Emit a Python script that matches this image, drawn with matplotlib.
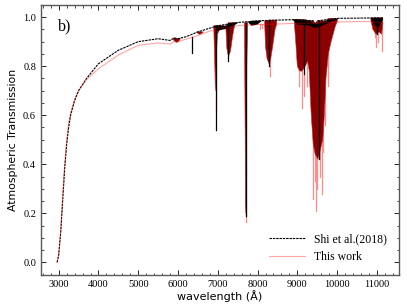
import matplotlib
matplotlib.use("Agg")
import matplotlib.pyplot as plt
from matplotlib.ticker import MultipleLocator

# continuum of the two transmission curves
shi_wl = [2960, 3000, 3050, 3100, 3150, 3200, 3250, 3300, 3400, 3500, 3700, 4000, 4500,
          5000, 5500, 5800, 5900, 6000, 6200, 6500, 7000, 7500, 8000, 8500, 9000, 9400,
          9450, 9500, 10000, 10500, 11150]
shi_T = [0.0, 0.03, 0.12, 0.25, 0.38, 0.48, 0.55, 0.60, 0.66, 0.70, 0.75, 0.81, 0.865,
         0.90, 0.912, 0.905, 0.915, 0.912, 0.92, 0.94, 0.965, 0.978, 0.985, 0.988, 0.99, 0.985,
         0.97, 0.985, 0.995, 0.996, 0.997]

new_wl = [2960, 3000, 3050, 3100, 3150, 3200, 3250, 3300, 3400, 3500, 3700, 4000, 4500,
          5000, 5500, 5800, 5900, 6000, 6200, 6500, 7000, 7500, 8000, 8500, 9000, 9500,
          10000, 10500, 10800, 11150]
new_T = [0.0, 0.03, 0.13, 0.27, 0.40, 0.50, 0.57, 0.61, 0.665, 0.70, 0.745, 0.79, 0.845,
         0.885, 0.895, 0.89, 0.90, 0.90, 0.91, 0.925, 0.955, 0.965, 0.97, 0.972, 0.975, 0.976,
         0.98, 0.982, 0.982, 0.975]

# dense absorption bands (outline of the dark region)
bands = [
    ([5880, 5930, 5970, 6020, 6060], [0.908, 0.90, 0.897, 0.902, 0.912]),
    ([6480, 6530, 6580, 6640], [0.937, 0.93, 0.932, 0.94]),
    ([6900, 6925, 6940, 6960, 6990, 7050, 7150], [0.955, 0.80, 0.70, 0.82, 0.93, 0.95, 0.96]),
    ([7200, 7230, 7270, 7320, 7370, 7420], [0.962, 0.87, 0.84, 0.86, 0.92, 0.965]),
    ([7670, 7688, 7700, 7715, 7730, 7750], [0.97, 0.55, 0.20, 0.28, 0.80, 0.975]),
    ([8180, 8200, 8240, 8290, 8330, 8380, 8440, 8480], [0.97, 0.88, 0.83, 0.81, 0.83, 0.88, 0.95, 0.97]),
    ([8920, 8960, 9000, 9060, 9120, 9200, 9260, 9300, 9350, 9400, 9450, 9520, 9580, 9640,
      9680, 9720, 9780, 9850, 9950, 10010],
     [0.985, 0.90, 0.80, 0.78, 0.78, 0.80, 0.82, 0.78, 0.60, 0.48, 0.44, 0.42, 0.46, 0.50,
      0.60, 0.75, 0.85, 0.90, 0.96, 0.985]),
    ([10850, 10900, 10980, 11050, 11120, 11150], [0.985, 0.95, 0.93, 0.94, 0.93, 0.98]),
]

# black "hatch" of the Shi et al. curve just below its continuum
shi_bands = [
    ([6900, 7000, 7200, 7400, 7500], [0.962, 0.945, 0.952, 0.964, 0.976]),
    ([7750, 7850, 8000, 8100], [0.98, 0.965, 0.97, 0.984]),
    ([8880, 9000, 9300, 9450, 9700, 10050], [0.99, 0.97, 0.965, 0.955, 0.97, 0.994]),
    ([10850, 10950, 11050, 11150], [0.995, 0.965, 0.96, 0.99]),
]

# single deep lines
new_lines_wl = [6550, 6945, 7230, 7266, 7700, 8050, 8120, 8260, 8313, 9040, 9110, 9170, 9250,
                9404, 9440, 9471, 9500, 9560, 9614, 9650, 9697, 9760, 10950, 10980, 11030, 11135]
new_lines_T = [0.925, 0.62, 0.88, 0.85, 0.165, 0.95, 0.955, 0.85, 0.76, 0.72, 0.63, 0.68, 0.72,
               0.26, 0.33, 0.21, 0.30, 0.35, 0.28, 0.45, 0.56, 0.72, 0.92, 0.88, 0.90, 0.86]

shi_lines_wl = [6345, 6945, 7266, 7700, 8300, 9169, 9555, 11000]
shi_lines_T = [0.855, 0.54, 0.82, 0.19, 0.80, 0.77, 0.42, 0.93]


def top_of(wl, cont_wl, cont_T):
    # continuum level under a line, taken from the nearest read point
    i = min(range(len(cont_wl)), key=lambda k: abs(cont_wl[k] - wl))
    return cont_T[i]


fig = plt.figure(figsize=(4.07, 3.05), dpi=100)
ax = fig.add_axes([0.1007, 0.098, 0.879, 0.886])

# pink single lines of this work
for w, t in zip(new_lines_wl, new_lines_T):
    ax.plot([w, w], [top_of(w, new_wl, new_T), t], color="#ff8c8c", lw=0.9, zorder=2)

# dark bands
for bw, bt in bands:
    ax.fill(bw[::-1] + bw, [top_of(w, shi_wl, shi_T) for w in bw[::-1]] + bt,
            color="#8b0000", lw=0.4, ec="#c03030", zorder=3)

for bw, bt in shi_bands:
    ax.fill(bw[::-1] + bw, [top_of(w, shi_wl, shi_T) for w in bw[::-1]] + bt,
            color="black", lw=0, zorder=4)

for w, t in zip(shi_lines_wl, shi_lines_T):
    ax.plot([w, w], [top_of(w, shi_wl, shi_T), t], color="black", lw=0.9, zorder=5)

ax.plot(shi_wl, shi_T, color="black", ls="--", dashes=(2.2, 0.8), lw=0.8,
        label="Shi et al.(2018)", zorder=6)
ax.plot(new_wl, new_T, color="red", alpha=0.35, lw=0.8, label="This work", zorder=6)

ax.set_xlim(2555, 11550)
ax.set_ylim(-0.052, 1.05)
ax.xaxis.set_major_locator(MultipleLocator(1000))
ax.xaxis.set_minor_locator(MultipleLocator(200))
ax.yaxis.set_major_locator(MultipleLocator(0.2))
ax.yaxis.set_minor_locator(MultipleLocator(0.05))
ax.tick_params(which="both", direction="in", top=True, right=True, labelsize=7.5)
ax.tick_params(which="major", length=3.5, width=0.6)
ax.tick_params(which="minor", length=1.8, width=0.5)
for lab in ax.get_xticklabels() + ax.get_yticklabels():
    lab.set_fontfamily("Liberation Serif")
for s in ax.spines.values():
    s.set_color("0.35")
    s.set_linewidth(1.0)

ax.set_xlabel("wavelength (Å)", fontsize=8, labelpad=1)
ax.set_ylabel("Atmospheric Transmission", fontsize=7.8, labelpad=4)
ax.text(0.047, 0.92, "b)", transform=ax.transAxes, fontsize=11.5,
        fontfamily="Liberation Serif", va="center")

leg = ax.legend(loc="lower right", frameon=False, prop={"family": "Liberation Serif", "size": 8.5},
                handlelength=3.0, borderaxespad=0.6)

fig.savefig("out.png", dpi=100)
